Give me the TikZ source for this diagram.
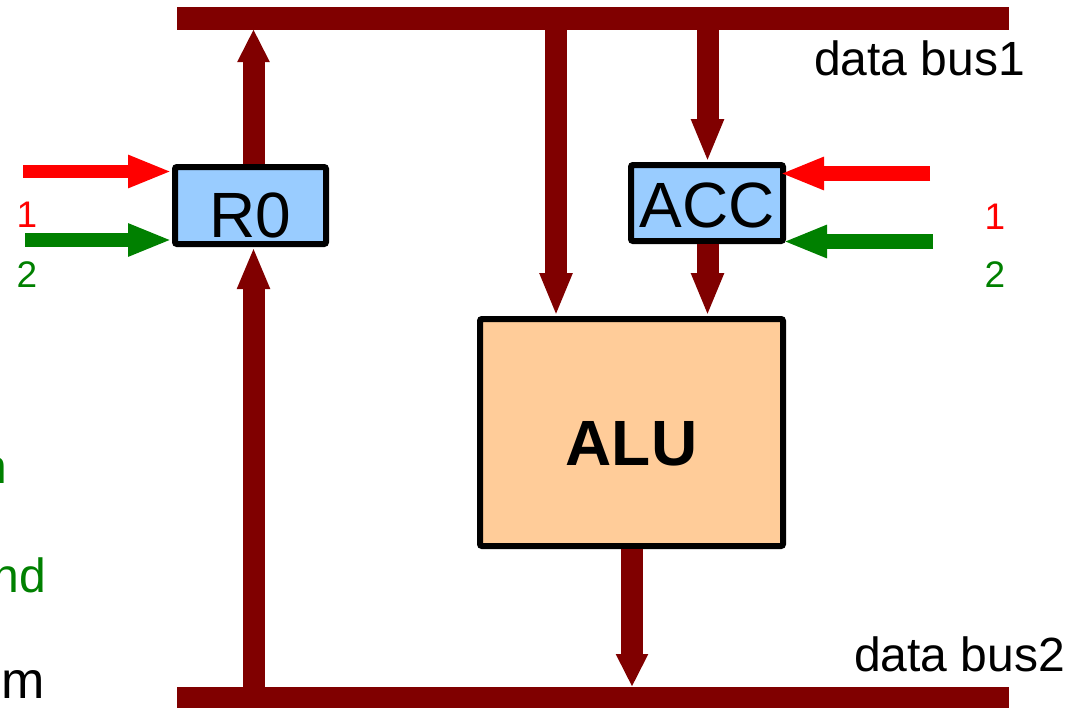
\documentclass[tikz,border=0pt]{standalone}
\usepackage{fontspec}
\setmainfont{Liberation Sans}
\usetikzlibrary{arrows.meta}
\definecolor{busred}{HTML}{800000}
\definecolor{regblue}{HTML}{99CCFF}
\definecolor{alufill}{HTML}{FFCC99}
\definecolor{sigred}{HTML}{FF0000}
\definecolor{siggreen}{HTML}{008000}
\newcommand{\fsz}[1]{\fontsize{#1}{#1}\selectfont}
\newcommand{\lowered}[2]{\raisebox{-#1}[0pt][0pt]{#2}}
\begin{document}
\begin{tikzpicture}[x=1pt,y=-1pt,
  box/.style={draw=black,line width=6pt,rounded corners=2pt,inner sep=0pt},
  bus/.style={draw=busred,line width=23pt},
  fat/.style={draw=busred,line width=22pt,-{Triangle[width=30pt,length=#1]}},
  thin/.style={line width=14pt,-{Triangle[width=30pt,length=44pt]}},
  lbl/.style={inner sep=0pt,font=\fsz{48}},
  num/.style={inner sep=0pt,font=\fsz{37}}]
\useasboundingbox (0,0) rectangle (1073,707);
\clip (0,0) rectangle (1073,707);
% buses
\coordinate (b1L) at (177,18);
\coordinate (b1R) at (1009,18);
\coordinate (b2L) at (177,698);
\coordinate (b2R) at (1009,698);
\draw[bus] (b1L) -- (b1R);
\draw[bus] (b2L) -- (b2R);
% bus taps
\coordinate (t1) at (253.5,29);
\coordinate (t2) at (556,29);
\coordinate (t3) at (707.5,29);
\coordinate (t4) at (253.5,687);
\coordinate (t5) at (632,687);
% boxes
\node[box,fill=regblue,minimum width=151pt,minimum height=77pt,font=\fsz{64}] (R0) at (250.5,205.5) {\lowered{31.5pt}{R0}};
\node[box,fill=regblue,minimum width=152pt,minimum height=76pt,font=\fsz{64}] (ACC) at (707,203) {\lowered{24pt}{ACC}};
\node[box,fill=alufill,minimum width=303pt,minimum height=227pt,font=\fsz{64}\bfseries] (ALU) at (631.5,432.5) {\lowered{32.5pt}{ALU}};
% bus arrows
\draw[fat=33pt] (R0.north -| t1) -- (t1);
\draw[fat=42pt] (t4) -- (R0.south -| t4);
\draw[fat=43pt] (t2) -- (ALU.north -| t2);
\draw[fat=43pt] (t3) -- (ACC.north -| t3);
\draw[fat=43pt] (ACC.south -| t3) -- (ALU.north -| t3);
\draw[fat=33pt] (ALU.south -| t5) -- (t5);
% control arrows
\coordinate (rl) at (23,171.5);
\coordinate (gl) at (25,240);
\coordinate (rr) at (930,173.5);
\coordinate (gr) at (933,241.5);
\draw[thin,draw=sigred,line width=13pt] (rl) -- (rl -| R0.west);
\draw[thin,draw=siggreen] (gl) -- (gl -| R0.west);
\draw[thin,draw=sigred,line width=15pt] (rr) -- (780,173.5);
\draw[thin,draw=siggreen,line width=15pt] (gr) -- (783,241.5);
% numbers
\node[num,text=sigred] (n1l) at (27,215) {1};
\node[num,text=siggreen] (n2l) at (27,275) {2};
\node[num,text=sigred] (n1r) at (995,217) {1};
\node[num,text=siggreen] (n2r) at (995,275) {2};
% bus labels
\node[lbl,anchor=base west] (lb1) at (814,75) {data bus1};
\node[lbl,anchor=base west] (lb2) at (854,671) {data bus2};
% clipped text at left edge (cut off in the reference too)
\node[lbl,anchor=base east,text=siggreen] (f1) at (7,483) {n};
\node[lbl,anchor=base east,text=siggreen] (f2) at (46,592) {nd};
\node[inner sep=0pt,font=\fsz{52},anchor=base east] (f3) at (45,698) {m};
\end{tikzpicture}
\end{document}
